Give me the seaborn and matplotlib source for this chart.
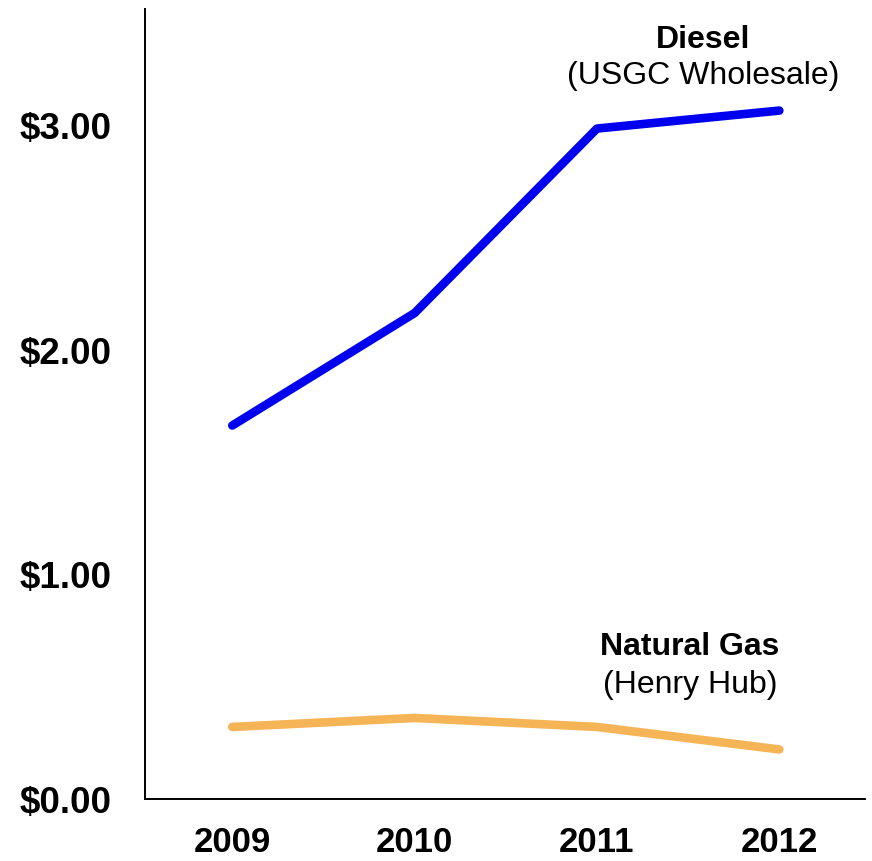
import numpy as np
import pandas as pd
import matplotlib
matplotlib.use("Agg")
import matplotlib.pyplot as plt
import seaborn as sns

years = ["2009", "2010", "2011", "2012"]
diesel = [1.66, 2.16, 2.98, 3.06]
natural_gas = [0.32, 0.36, 0.32, 0.22]
y_ticks = [0.0, 1.0, 2.0, 3.0]
y_tick_labels = ["$0.00", "$1.00", "$2.00", "$3.00"]

df = pd.DataFrame({
    "year": years * 2,
    "price": diesel + natural_gas,
    "fuel": ["Diesel"] * 4 + ["Natural Gas"] * 4,
})

sns.set_theme(style="white")
plt.rcParams["font.family"] = ["Liberation Sans", "DejaVu Sans"]
plt.rcParams["text.color"] = "black"
plt.rcParams["xtick.color"] = "black"
plt.rcParams["ytick.color"] = "black"

fig = plt.figure(figsize=(8.72, 8.62), dpi=100)
ax = fig.add_axes([0.166, 0.072, 0.826, 0.916])

sns.lineplot(data=df, x="year", y="price", hue="fuel",
             palette={"Diesel": "#0000F0", "Natural Gas": "#F5B556"},
             linewidth=6.2, legend=False, ax=ax, sort=False)
for line in ax.lines:
    line.set_solid_capstyle("round")
    line.set_solid_joinstyle("round")

ax.set_xlim(-0.48, 3.47)
ax.set_ylim(0, 3.51)
ax.set_yticks(y_ticks)
ax.set_yticklabels(y_tick_labels, fontsize=26.5, fontweight="bold", color="black")
ax.set_xticks(range(len(years)))
ax.set_xticklabels(years, fontsize=25, fontweight="bold", color="black")
ax.tick_params(axis="both", length=0)
ax.tick_params(axis="y", pad=24)
ax.tick_params(axis="x", pad=19)
ax.set_xlabel("")
ax.set_ylabel("")

sns.despine(ax=ax)
for s in ["left", "bottom"]:
    ax.spines[s].set_color("black")
    ax.spines[s].set_linewidth(1.4)

ax.text(2.58, 3.38, "Diesel", ha="center", va="center", fontsize=23, fontweight="bold", color="black")
ax.text(2.58, 3.22, "(USGC Wholesale)", ha="center", va="center", fontsize=23, color="black")
ax.text(2.51, 0.68, "Natural Gas", ha="center", va="center", fontsize=23, fontweight="bold", color="black")
ax.text(2.51, 0.51, "(Henry Hub)", ha="center", va="center", fontsize=23, color="black")

fig.savefig("out.png", dpi=100)
